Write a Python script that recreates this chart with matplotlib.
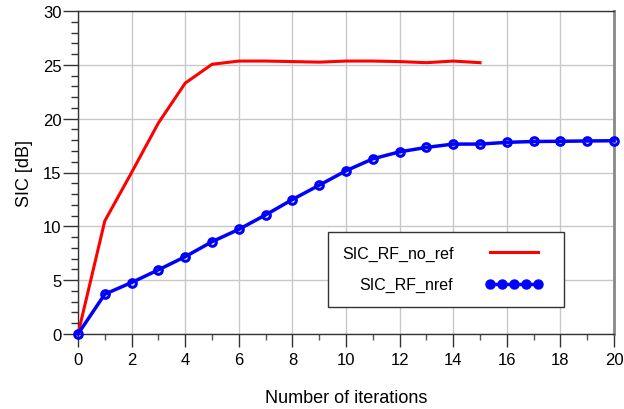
import matplotlib
matplotlib.use("Agg")
import matplotlib.pyplot as plt
from matplotlib.ticker import MultipleLocator

plt.rcParams['font.family'] = ['Liberation Sans', 'DejaVu Sans']

iter_red = [0, 1, 2, 3, 4, 5, 6, 7, 8, 9, 10, 11, 12, 13, 14, 15]
sic_no_ref = [0.0, 10.5, 15.0, 19.6, 23.3, 25.05, 25.35, 25.35, 25.3, 25.25, 25.35, 25.35, 25.3, 25.2, 25.35, 25.2]

iter_blue = list(range(0, 21))
sic_nref = [0.0, 3.7, 4.78, 5.96, 7.18, 8.57, 9.72, 11.06, 12.49, 13.82, 15.16, 16.27,
            16.92, 17.33, 17.64, 17.64, 17.8, 17.88, 17.9, 17.93, 17.95]

x_ticks = [0, 2, 4, 6, 8, 10, 12, 14, 16, 18, 20]
y_ticks = [0, 5, 10, 15, 20, 25, 30]

fig = plt.figure(figsize=(6.24, 4.10), dpi=100)
ax = fig.add_axes([78/624, 1-335/410, (614-78)/624, (335-12)/410])

ax.plot(iter_red, sic_no_ref, color='#ff0000', lw=2.2, label='SIC_RF_no_ref', zorder=3, clip_on=False)
ax.plot(iter_blue, sic_nref, color='#0000ff', lw=2.5, marker='o', ms=5.5,
        mfc='none', mec='#0000ff', mew=2.2, label='SIC_RF_nref', zorder=4, clip_on=False)

ax.set_xlim(0, 20)
ax.set_ylim(0, 30)
ax.set_xticks(x_ticks)
ax.set_yticks(y_ticks)
ax.xaxis.set_minor_locator(MultipleLocator(1))
ax.yaxis.set_minor_locator(MultipleLocator(1))
ax.grid(True, which='major', color='#c8c8c8', lw=1.0, zorder=0)
ax.tick_params(axis='y', which='major', length=11, width=1, color='#333333', labelsize=12, pad=1)
ax.tick_params(axis='y', which='minor', length=5, width=1, color='#333333')
ax.tick_params(axis='x', which='major', length=9, width=1, color='#333333', labelsize=12, pad=4)
ax.tick_params(axis='x', which='minor', length=4.5, width=1, color='#555555')

for s in ['left', 'bottom', 'top']:
    ax.spines[s].set_color('#333333')
    ax.spines[s].set_linewidth(1.0)
ax.spines['right'].set_color('#888888')
ax.spines['right'].set_linewidth(2.0)

ax.set_ylabel('SIC [dB]', fontsize=13, labelpad=7)
ax.set_xlabel('Number of iterations', fontsize=13, labelpad=16)

leg = ax.legend(loc='lower left', bbox_to_anchor=(0.4655, 0.0845, 0.442, 0.23), mode='expand',
                markerfirst=False, numpoints=5, handlelength=3.6, fontsize=11.5,
                frameon=True, fancybox=False, edgecolor='#333333', framealpha=1,
                borderaxespad=0, borderpad=0.9, labelspacing=1.0, handletextpad=2.0)
leg.get_frame().set_linewidth(1.0)
for h in leg.legend_handles:
    if h.get_marker() == 'o':
        h.set_markersize(6.5)
        h.set_markeredgewidth(1.0)
        h.set_markerfacecolor('#0000ff')

fig.savefig('out.png', dpi=100)
